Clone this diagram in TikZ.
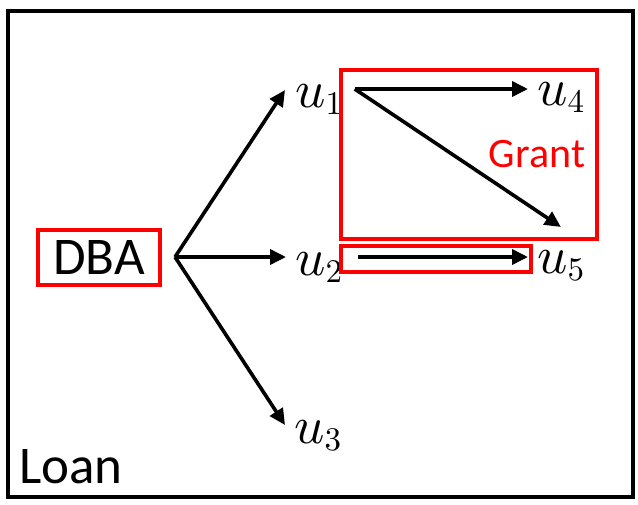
\documentclass[tikz,border=0pt]{standalone}
\usepackage[no-math]{fontspec}
\setmainfont{Carlito}
\DeclareFontShape{OML}{cmm}{m}{it}{<->cmmi10}{}
\DeclareFontShape{OT1}{cmr}{m}{n}{<->cmr10}{}
\DeclareFontShape{OMS}{cmsy}{m}{n}{<->cmsy10}{}
\DeclareMathSizes{53}{53}{33}{26}
\usetikzlibrary{arrows.meta}
\tikzset{
    red-box/.style = {draw=red, line width=3.6pt, rectangle, inner sep=0pt},
    flow/.style = {draw=black, line width=3.6pt, -{Triangle[length=16pt,width=15pt]}},
    var-label/.style = {inner sep=0pt, font=\fontsize{53}{60}\selectfont},
}
\begin{document}
\begin{tikzpicture}[x=1pt,y=-1pt]
\useasboundingbox (0,0) rectangle (638,504);
\draw[line width=4pt] (8,11.3) rectangle (632.7,497);
\node[red-box, minimum width=122pt, minimum height=55pt, font=\fontsize{53}{60}\selectfont] (dba) at (99,257.5) {DBA};
\coordinate (fork) at (175,257);
\node[var-label, anchor=base west] (u1) at (295,107) {$u_1$};
\node[var-label, anchor=base west] (u2) at (295,275) {$u_2$};
\node[var-label, anchor=base west] (u3) at (294,443) {$u_3$};
\node[var-label, anchor=base west] (u4) at (537,105) {$u_4$};
\node[var-label, anchor=base west] (u5) at (537,273) {$u_5$};
\node[red-box, minimum width=256pt, minimum height=169pt] (grant) at (469,154.5) {};
\node[red-box, minimum width=190pt, minimum height=26pt] (pair) at (436,259) {};
\node[text=red, inner sep=0pt, anchor=base, font=\fontsize{42}{48}\selectfont] (grant-label) at (537,167) {Grant};
\node[inner sep=0pt, anchor=base west, font=\fontsize{53}{60}\selectfont] (loan) at (19,483) {Loan};
\draw[flow] (fork) -- ([shift={(-10pt,17pt)}]u1.base west);
\draw[flow] (fork) -- ([shift={(-9pt,18pt)}]u2.base west);
\draw[flow] (fork) -- ([shift={(-9pt,18pt)}]u3.base west);
\draw[flow] ([shift={(12pt,18pt)}]u1.base east) -- ([shift={(-9pt,16pt)}]u4.base west);
\draw[flow] ([shift={(12pt,18pt)}]u1.base east) -- ([yshift=23pt]u5.north);
\draw[flow] ([shift={(15pt,18pt)}]u2.base east) -- ([shift={(-9pt,16pt)}]u5.base west);
\end{tikzpicture}
\end{document}
